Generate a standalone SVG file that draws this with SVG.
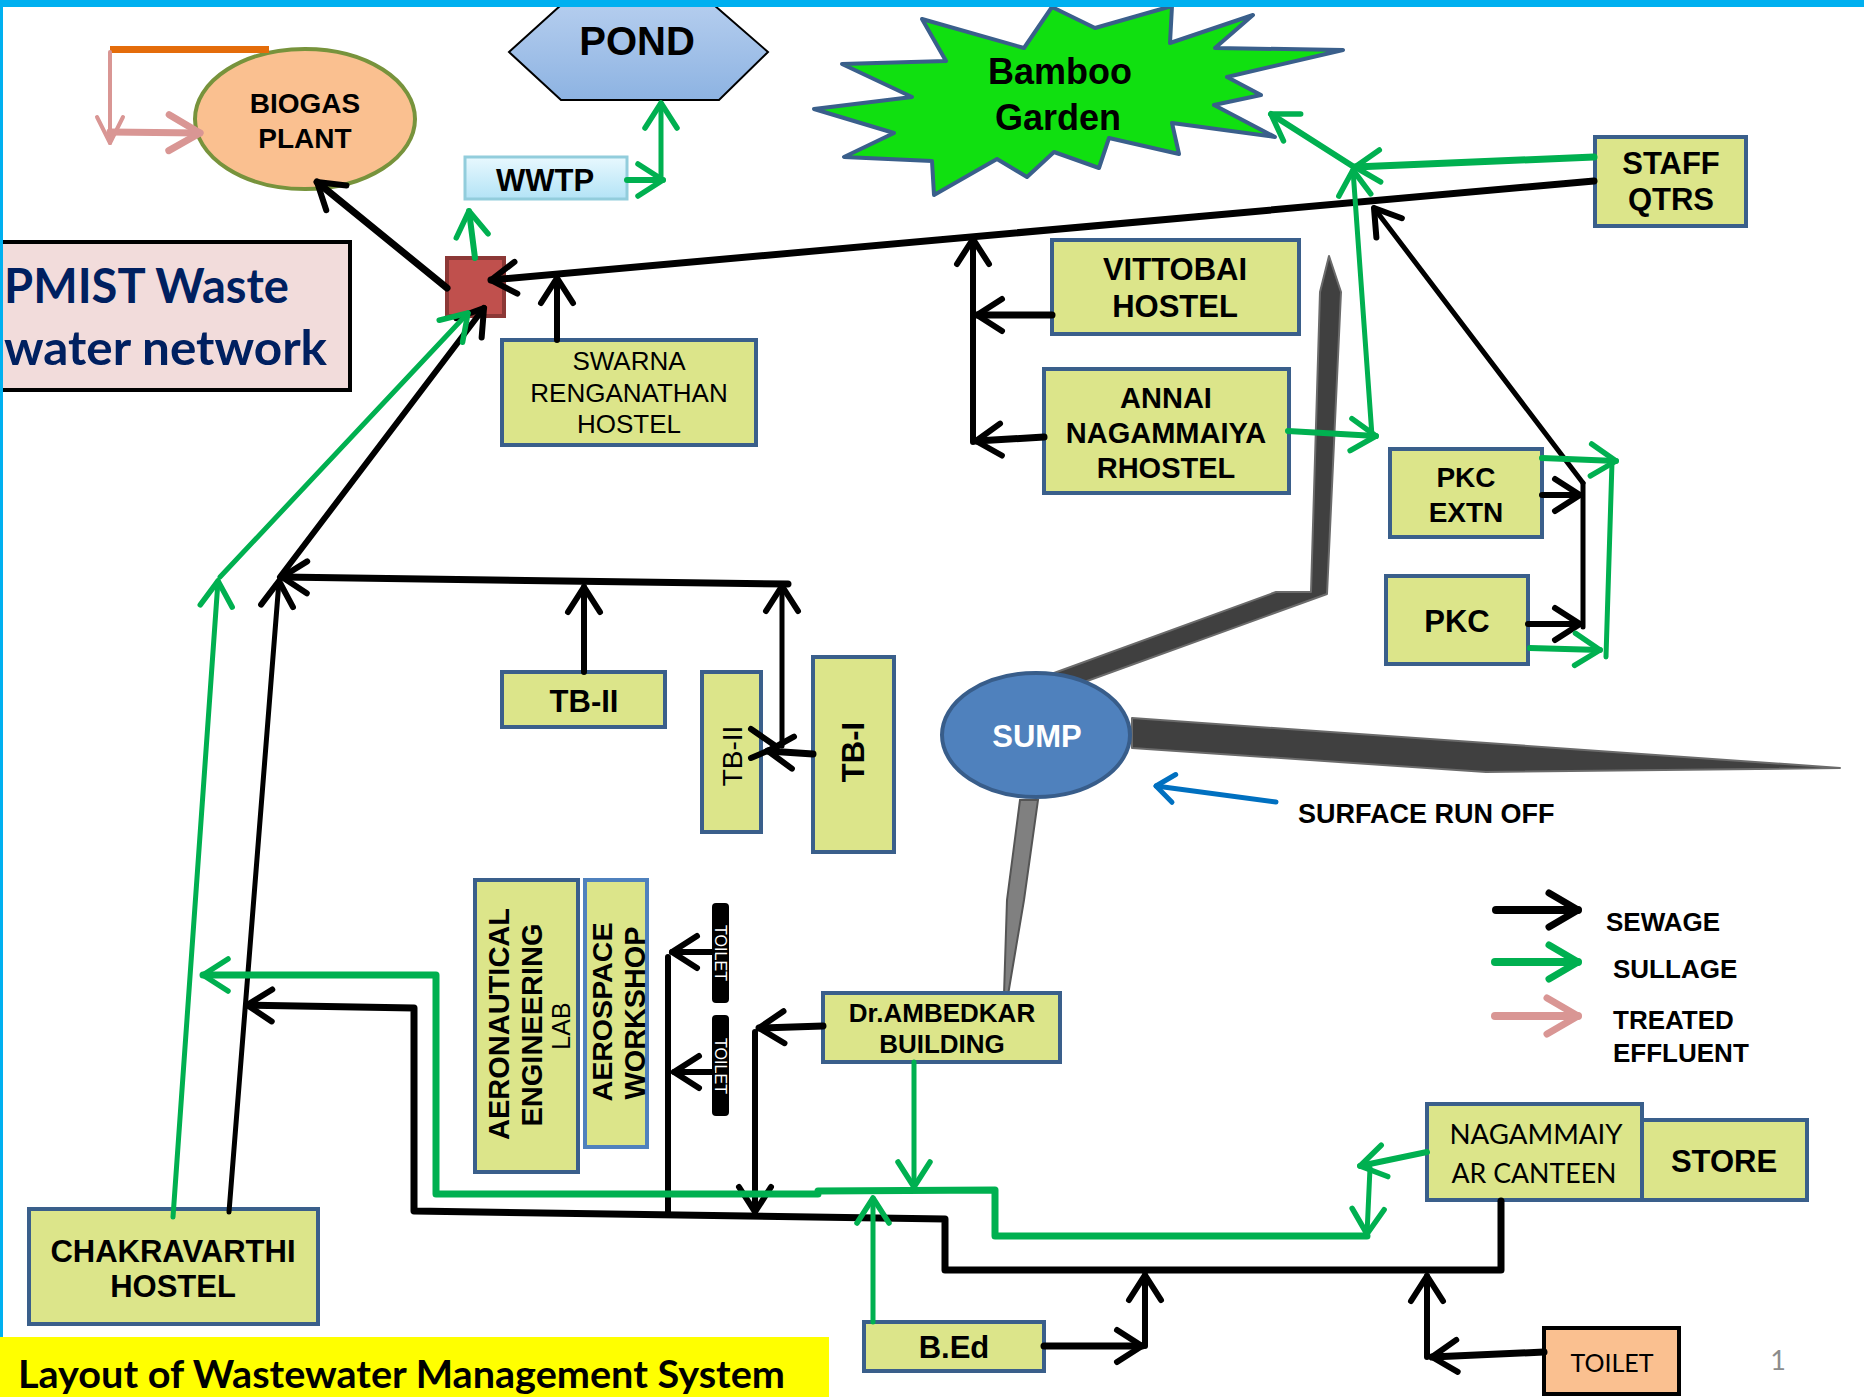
<svg xmlns="http://www.w3.org/2000/svg" width="1864" height="1397" viewBox="0 0 1864 1397">
<style>
.box{fill:#DCE58A;stroke:#3A5F8B;stroke-width:4}
.tb{font-family:"Liberation Sans",Arial,sans-serif;font-weight:bold;text-anchor:middle;fill:#000}
.tr{font-family:"Liberation Sans",Arial,sans-serif;text-anchor:middle;fill:#000}
.tc{font-family:Lato,"Open Sans",sans-serif;text-anchor:middle;fill:#000}
.bk{fill:none;stroke:#000;stroke-linecap:round;stroke-linejoin:round}
.gr{fill:none;stroke:#00B050;stroke-linecap:round;stroke-linejoin:round}
.pk{fill:none;stroke:#D99694;stroke-linecap:round;stroke-linejoin:round}
.chan{fill:#404040;stroke:#6B6B6B;stroke-width:2;stroke-linejoin:round}
</style>
<defs>
<marker id="mB" viewBox="-30 -20 34 40" refX="0" refY="0" markerWidth="34" markerHeight="40" orient="auto" markerUnits="userSpaceOnUse" overflow="visible">
<path d="M-25,-16 L0,0 L-25,16" fill="none" stroke="#000" stroke-width="6" stroke-linecap="round" stroke-linejoin="round"/>
</marker>
<marker id="mBL" viewBox="-30 -20 34 40" refX="0" refY="0" markerWidth="34" markerHeight="40" orient="auto" markerUnits="userSpaceOnUse" overflow="visible">
<path d="M-29,-17 L0,0 L-29,17" fill="none" stroke="#000" stroke-width="7" stroke-linecap="round" stroke-linejoin="round"/>
</marker>
<marker id="mG" viewBox="-30 -20 34 40" refX="0" refY="0" markerWidth="34" markerHeight="40" orient="auto" markerUnits="userSpaceOnUse" overflow="visible">
<path d="M-25,-16 L0,0 L-25,16" fill="none" stroke="#00B050" stroke-width="5.5" stroke-linecap="round" stroke-linejoin="round"/>
</marker>
<marker id="mGL" viewBox="-30 -20 34 40" refX="0" refY="0" markerWidth="34" markerHeight="40" orient="auto" markerUnits="userSpaceOnUse" overflow="visible">
<path d="M-29,-17 L0,0 L-29,17" fill="none" stroke="#00B050" stroke-width="7" stroke-linecap="round" stroke-linejoin="round"/>
</marker>
<marker id="mP" viewBox="-36 -20 40 40" refX="0" refY="0" markerWidth="40" markerHeight="40" orient="auto" markerUnits="userSpaceOnUse" overflow="visible">
<path d="M-31,-18 L0,0 L-31,18" fill="none" stroke="#D99694" stroke-width="7" stroke-linecap="round" stroke-linejoin="round"/>
</marker>
<marker id="mPs" viewBox="-30 -20 34 40" refX="0" refY="0" markerWidth="34" markerHeight="40" orient="auto" markerUnits="userSpaceOnUse" overflow="visible">
<path d="M-26,-13 L0,0 L-26,13" fill="none" stroke="#D99694" stroke-width="4" stroke-linecap="round" stroke-linejoin="round"/>
</marker>
<marker id="mU" viewBox="-30 -20 34 40" refX="0" refY="0" markerWidth="34" markerHeight="40" orient="auto" markerUnits="userSpaceOnUse" overflow="visible">
<path d="M-18,-14 L0,0 L-18,14" fill="none" stroke="#0070C0" stroke-width="5" stroke-linecap="round" stroke-linejoin="round"/>
</marker>
<linearGradient id="gPond" x1="0" y1="0" x2="0" y2="1">
<stop offset="0" stop-color="#B4CDEE"/><stop offset="1" stop-color="#8DB3E2"/>
</linearGradient>
<linearGradient id="gWwtp" x1="0" y1="0" x2="0" y2="1">
<stop offset="0" stop-color="#E8F8FE"/><stop offset="1" stop-color="#B3E3F6"/>
</linearGradient>
</defs>

<rect x="0" y="0" width="1864" height="1397" fill="#FFFFFF"/>

<!-- Surface run-off channels -->
<g id="channels">
<polygon class="chan" points="1054,673 1276,592 1311,592 1320,292 1329,256 1341,292 1327,594 1054,693"/>
<polygon class="chan" points="1132,718 1840,768 1486,772 1132,748"/>
<polygon points="1020,800 1038,800 1024,900 1008,995 1004,995 1007,900" fill="#808080" stroke="#555555" stroke-width="2"/>
</g>

<g id="title-box">
<rect x="-5" y="242" width="355" height="148" fill="#F2DCDB" stroke="#000" stroke-width="4"/>
<text x="4" y="303" font-family="Lato,'Open Sans',sans-serif" font-weight="bold" font-size="48" fill="#002060" textLength="285" lengthAdjust="spacingAndGlyphs">PMIST Waste</text>
<text x="4" y="365" font-family="Lato,'Open Sans',sans-serif" font-weight="bold" font-size="48" fill="#002060" textLength="323" lengthAdjust="spacingAndGlyphs">water network</text>
</g>

<g id="biogas">
<ellipse cx="305" cy="119" rx="110" ry="70" fill="#FAC090" stroke="#77933C" stroke-width="4"/>
<text class="tb" x="305" y="113" font-size="28">BIOGAS</text>
<text class="tb" x="305" y="148" font-size="28">PLANT</text>
</g>

<g id="pond">
<polygon points="509,52 561,5 714,5 768,52 719,100 561,100" fill="url(#gPond)" stroke="#000" stroke-width="2"/>
<text class="tb" x="637" y="55" font-size="40">POND</text>
</g>

<g id="wwtp">
<rect x="465" y="157" width="162" height="42" fill="url(#gWwtp)" stroke="#92CDDC" stroke-width="3"/>
<text class="tb" x="545" y="191" font-size="31">WWTP</text>
</g>

<g id="bamboo">
<polygon points="922,19 946,61 842,64 912,97 814,109 894,133 844,157 932,161 934,195 997,159 1027,177 1054,152 1099,168 1109,138 1179,154 1172,123 1275,137 1214,105 1261,95 1227,77 1343,50 1215,48 1253,15 1170,43 1172,6 1095,28 1052,7 1024,48" fill="#10E010" stroke="#3A5F8B" stroke-width="4" stroke-linejoin="round"/>
<text class="tb" x="1060" y="84" font-size="36">Bamboo</text>
<text class="tb" x="1058" y="130" font-size="36">Garden</text>
</g>

<g id="junction">
<rect x="447" y="258" width="57" height="58" fill="#C0504D" stroke="#8C3836" stroke-width="4"/>
</g>

<g id="staff">
<rect class="box" x="1595" y="137" width="151" height="89"/>
<text class="tb" x="1671" y="174" font-size="31">STAFF</text>
<text class="tb" x="1671" y="210" font-size="31">QTRS</text>
</g>

<g id="swarna">
<rect class="box" x="502" y="340" width="254" height="105"/>
<text class="tr" x="629" y="370" font-size="26">SWARNA</text>
<text class="tr" x="629" y="402" font-size="26">RENGANATHAN</text>
<text class="tr" x="629" y="433" font-size="26">HOSTEL</text>
</g>

<g id="vittobai">
<rect class="box" x="1052" y="240" width="247" height="94"/>
<text class="tb" x="1175" y="280" font-size="31">VITTOBAI</text>
<text class="tb" x="1175" y="317" font-size="31">HOSTEL</text>
</g>

<g id="annai">
<rect class="box" x="1044" y="369" width="245" height="124"/>
<text class="tb" x="1166" y="408" font-size="29">ANNAI</text>
<text class="tb" x="1166" y="443" font-size="29">NAGAMMAIYA</text>
<text class="tb" x="1166" y="478" font-size="29">RHOSTEL</text>
</g>

<g id="pkc-extn">
<rect class="box" x="1390" y="449" width="152" height="88"/>
<text class="tb" x="1466" y="487" font-size="28">PKC</text>
<text class="tb" x="1466" y="522" font-size="28">EXTN</text>
</g>

<g id="pkc">
<rect class="box" x="1386" y="576" width="142" height="88"/>
<text class="tb" x="1457" y="632" font-size="31">PKC</text>
</g>

<g id="sump">
<ellipse cx="1036" cy="735" rx="94" ry="62" fill="#4F81BD" stroke="#385D8A" stroke-width="4"/>
<text class="tb" x="1037" y="747" font-size="31" style="fill:#FFFFFF">SUMP</text>
</g>

<g id="runoff-label">
<text x="1298" y="823" font-family="'Liberation Sans',Arial,sans-serif" font-weight="bold" font-size="27">SURFACE RUN OFF</text>
</g>

<g id="tb2-h">
<rect class="box" x="502" y="672" width="163" height="55"/>
<text class="tb" x="584" y="712" font-size="31">TB-II</text>
</g>

<g id="tb2-v">
<rect class="box" x="702" y="672" width="59" height="160"/>
<text class="tr" transform="translate(742,756) rotate(-90)" font-size="28">TB-II</text>
</g>

<g id="tb1">
<rect class="box" x="813" y="657" width="81" height="195"/>
<text class="tb" transform="translate(864,752) rotate(-90)" font-size="31">TB-I</text>
</g>

<g id="aero-lab">
<rect class="box" x="475" y="880" width="103" height="292"/>
<text class="tb" transform="translate(509,1024) rotate(-90)" font-size="29" textLength="232" lengthAdjust="spacingAndGlyphs">AERONAUTICAL</text>
<text class="tb" transform="translate(542,1025) rotate(-90)" font-size="29" textLength="203" lengthAdjust="spacingAndGlyphs">ENGINEERING</text>
<text class="tr" transform="translate(570,1026) rotate(-90)" font-size="25">LAB</text>
</g>

<g id="aero-workshop">
<rect x="585" y="880" width="62" height="267" fill="#DCE58A" stroke="#4F81BD" stroke-width="4"/>
<text class="tb" transform="translate(612,1012) rotate(-90)" font-size="28" textLength="179" lengthAdjust="spacingAndGlyphs">AEROSPACE</text>
<text class="tb" transform="translate(645,1013) rotate(-90)" font-size="29" textLength="173" lengthAdjust="spacingAndGlyphs">WORKSHOP</text>
</g>

<g id="toilet1">
<rect x="712" y="903" width="17" height="100" rx="4" fill="#000"/>
<text class="tr" transform="translate(715,953) rotate(90)" font-size="16" style="fill:#FFFFFF" textLength="56" lengthAdjust="spacingAndGlyphs">TOILET</text>
</g>
<g id="toilet2">
<rect x="712" y="1015" width="17" height="101" rx="4" fill="#000"/>
<text class="tr" transform="translate(715,1066) rotate(90)" font-size="16" style="fill:#FFFFFF" textLength="56" lengthAdjust="spacingAndGlyphs">TOILET</text>
</g>

<g id="ambedkar">
<rect class="box" x="823" y="993" width="237" height="69"/>
<text class="tb" x="942" y="1022" font-size="26">Dr.AMBEDKAR</text>
<text class="tb" x="942" y="1053" font-size="26">BUILDING</text>
</g>

<g id="chakravarthi">
<rect class="box" x="29" y="1209" width="289" height="115"/>
<text class="tb" x="173" y="1262" font-size="31">CHAKRAVARTHI</text>
<text class="tb" x="173" y="1297" font-size="31">HOSTEL</text>
</g>

<g id="bed">
<rect class="box" x="864" y="1322" width="180" height="49"/>
<text class="tb" x="954" y="1358" font-size="31">B.Ed</text>
</g>

<g id="canteen">
<rect class="box" x="1427" y="1104" width="215" height="96"/>
<text class="tc" x="1536" y="1144" font-size="27" textLength="173" lengthAdjust="spacingAndGlyphs">NAGAMMAIY</text>
<text class="tc" x="1534" y="1183" font-size="27" textLength="165" lengthAdjust="spacingAndGlyphs">AR CANTEEN</text>
</g>

<g id="store">
<rect class="box" x="1642" y="1120" width="165" height="80"/>
<text class="tb" x="1724" y="1172" font-size="31">STORE</text>
</g>

<g id="toilet-bottom">
<rect x="1544" y="1328" width="135" height="66" fill="#FAC090" stroke="#000" stroke-width="4"/>
<text class="tc" x="1612" y="1372" font-size="25" textLength="83" lengthAdjust="spacingAndGlyphs">TOILET</text>
</g>

<!-- Connectors -->
<g id="connectors">
<line x1="110" y1="49.5" x2="269" y2="49.5" stroke="#E46C0A" stroke-width="7"/>
<line class="pk" x1="110" y1="52" x2="110" y2="143" stroke-width="4" marker-end="url(#mPs)"/>
<line class="pk" x1="110" y1="132" x2="200" y2="133" stroke-width="7" marker-end="url(#mP)"/>

<line class="bk" x1="1594" y1="181" x2="491" y2="280" stroke-width="7" marker-end="url(#mB)"/>
<line class="bk" x1="557" y1="340" x2="557" y2="278" stroke-width="6" marker-end="url(#mB)"/>
<line class="bk" x1="447" y1="288" x2="317" y2="182" stroke-width="7" marker-end="url(#mB)"/>
<line class="bk" x1="973" y1="442" x2="973" y2="239" stroke-width="6" marker-end="url(#mB)"/>
<line class="bk" x1="1052" y1="315" x2="977" y2="315" stroke-width="7" marker-end="url(#mB)"/>
<line class="bk" x1="1044" y1="437" x2="976" y2="441" stroke-width="7" marker-end="url(#mB)"/>
<line class="bk" x1="1583" y1="483" x2="1374" y2="208" stroke-width="5" marker-end="url(#mB)"/>
<line class="bk" x1="1583" y1="483" x2="1583" y2="627" stroke-width="5"/>
<line class="bk" x1="1542" y1="495" x2="1580" y2="495" stroke-width="6" marker-end="url(#mB)"/>
<line class="bk" x1="1528" y1="624" x2="1580" y2="624" stroke-width="6" marker-end="url(#mB)"/>
<line class="bk" x1="229" y1="1212" x2="279" y2="581" stroke-width="5" marker-end="url(#mB)"/>
<line class="bk" x1="280" y1="577" x2="484" y2="308" stroke-width="6" marker-end="url(#mB)"/>
<line class="bk" x1="788" y1="584" x2="282" y2="577" stroke-width="7" marker-end="url(#mB)"/>
<line class="bk" x1="584" y1="672" x2="584" y2="587" stroke-width="6" marker-end="url(#mB)"/>
<line class="bk" x1="782" y1="746" x2="782" y2="586" stroke-width="5" marker-end="url(#mB)"/>
<line class="bk" x1="813" y1="754" x2="768" y2="751" stroke-width="7" marker-end="url(#mB)"/>
<polyline class="bk" points="751,729 777,747 751,758" stroke-width="6"/>
<polyline class="bk" points="1501,1201 1501,1270 945,1270 945,1219 414,1211 414,1008 247,1005" stroke-width="7" marker-end="url(#mB)"/>
<line class="bk" x1="712" y1="952" x2="672" y2="952" stroke-width="6" marker-end="url(#mB)"/>
<line class="bk" x1="712" y1="1072" x2="674" y2="1072" stroke-width="6" marker-end="url(#mB)"/>
<line class="bk" x1="668" y1="957" x2="668" y2="1214" stroke-width="6"/>
<line class="bk" x1="823" y1="1026" x2="759" y2="1028" stroke-width="7" marker-end="url(#mB)"/>
<line class="bk" x1="755" y1="1032" x2="755" y2="1212" stroke-width="6" marker-end="url(#mB)"/>
<line class="bk" x1="1044" y1="1346" x2="1142" y2="1346" stroke-width="7" marker-end="url(#mB)"/>
<line class="bk" x1="1145" y1="1346" x2="1145" y2="1275" stroke-width="6" marker-end="url(#mB)"/>
<line class="bk" x1="1544" y1="1352" x2="1432" y2="1357" stroke-width="7" marker-end="url(#mB)"/>
<line class="bk" x1="1427" y1="1357" x2="1427" y2="1276" stroke-width="6" marker-end="url(#mB)"/>

<line class="gr" x1="475" y1="258" x2="469" y2="211" stroke-width="6" marker-end="url(#mG)"/>
<line class="gr" x1="627" y1="180" x2="663" y2="180" stroke-width="6" marker-end="url(#mG)"/>
<line class="gr" x1="661" y1="180" x2="661" y2="103" stroke-width="5" marker-end="url(#mG)"/>
<line class="gr" x1="1594" y1="157" x2="1355" y2="167" stroke-width="7" marker-end="url(#mG)"/>
<line class="gr" x1="1354" y1="167" x2="1271" y2="114" stroke-width="6" marker-end="url(#mG)"/>
<line class="gr" x1="1288" y1="431" x2="1376" y2="436" stroke-width="6" marker-end="url(#mG)"/>
<line class="gr" x1="1372" y1="436" x2="1353" y2="170" stroke-width="5" marker-end="url(#mG)"/>
<line class="gr" x1="1542" y1="458" x2="1616" y2="461" stroke-width="6" marker-end="url(#mG)"/>
<line class="gr" x1="1612" y1="462" x2="1606" y2="657" stroke-width="5"/>
<line class="gr" x1="1530" y1="648" x2="1600" y2="650" stroke-width="6" marker-end="url(#mG)"/>
<line class="gr" x1="173" y1="1217" x2="218" y2="581" stroke-width="5" marker-end="url(#mG)"/>
<line class="gr" x1="220" y1="577" x2="468" y2="313" stroke-width="5" marker-end="url(#mG)"/>
<line class="gr" x1="1427" y1="1152" x2="1360" y2="1166" stroke-width="6" marker-end="url(#mG)"/>
<line class="gr" x1="1370" y1="1168" x2="1367" y2="1234" stroke-width="5" marker-end="url(#mG)"/>
<polyline class="gr" points="1367,1236 995,1236 995,1190 818,1191 818,1194 436,1194 436,975 203,975" stroke-width="7" marker-end="url(#mG)"/>
<line class="gr" x1="914" y1="1062" x2="914" y2="1187" stroke-width="5" marker-end="url(#mG)"/>
<line class="gr" x1="873" y1="1322" x2="873" y2="1198" stroke-width="5" marker-end="url(#mG)"/>

<line x1="1276" y1="802" x2="1156" y2="786" stroke="#0070C0" stroke-width="5" stroke-linecap="round" marker-end="url(#mU)"/>
</g>

<g id="legend">
<line class="bk" x1="1496" y1="910" x2="1578" y2="910" stroke-width="8" marker-end="url(#mBL)"/>
<line class="gr" x1="1495" y1="962" x2="1578" y2="962" stroke-width="8" marker-end="url(#mGL)"/>
<line class="pk" x1="1495" y1="1016" x2="1578" y2="1016" stroke-width="8" marker-end="url(#mP)"/>
<text x="1606" y="931" font-family="'Liberation Sans',Arial,sans-serif" font-weight="bold" font-size="26">SEWAGE</text>
<text x="1613" y="978" font-family="'Liberation Sans',Arial,sans-serif" font-weight="bold" font-size="26">SULLAGE</text>
<text x="1613" y="1029" font-family="'Liberation Sans',Arial,sans-serif" font-weight="bold" font-size="26">TREATED</text>
<text x="1613" y="1062" font-family="'Liberation Sans',Arial,sans-serif" font-weight="bold" font-size="26">EFFLUENT</text>
</g>

<g id="frame">
<rect x="0" y="0" width="1864" height="7" fill="#00B0F0"/>
<rect x="0" y="0" width="3" height="1338" fill="#00B0F0"/>
<rect x="0" y="1337" width="829" height="60" fill="#FFFF00"/>
<text x="18" y="1388" font-family="Lato,'Open Sans',sans-serif" font-weight="bold" font-size="38" fill="#000" textLength="767" lengthAdjust="spacingAndGlyphs">Layout of Wastewater Management System</text>
<text x="1778" y="1370" font-family="Lato,'Open Sans',sans-serif" font-size="27" fill="#8C8C8C" text-anchor="middle">1</text>
</g>
</svg>
